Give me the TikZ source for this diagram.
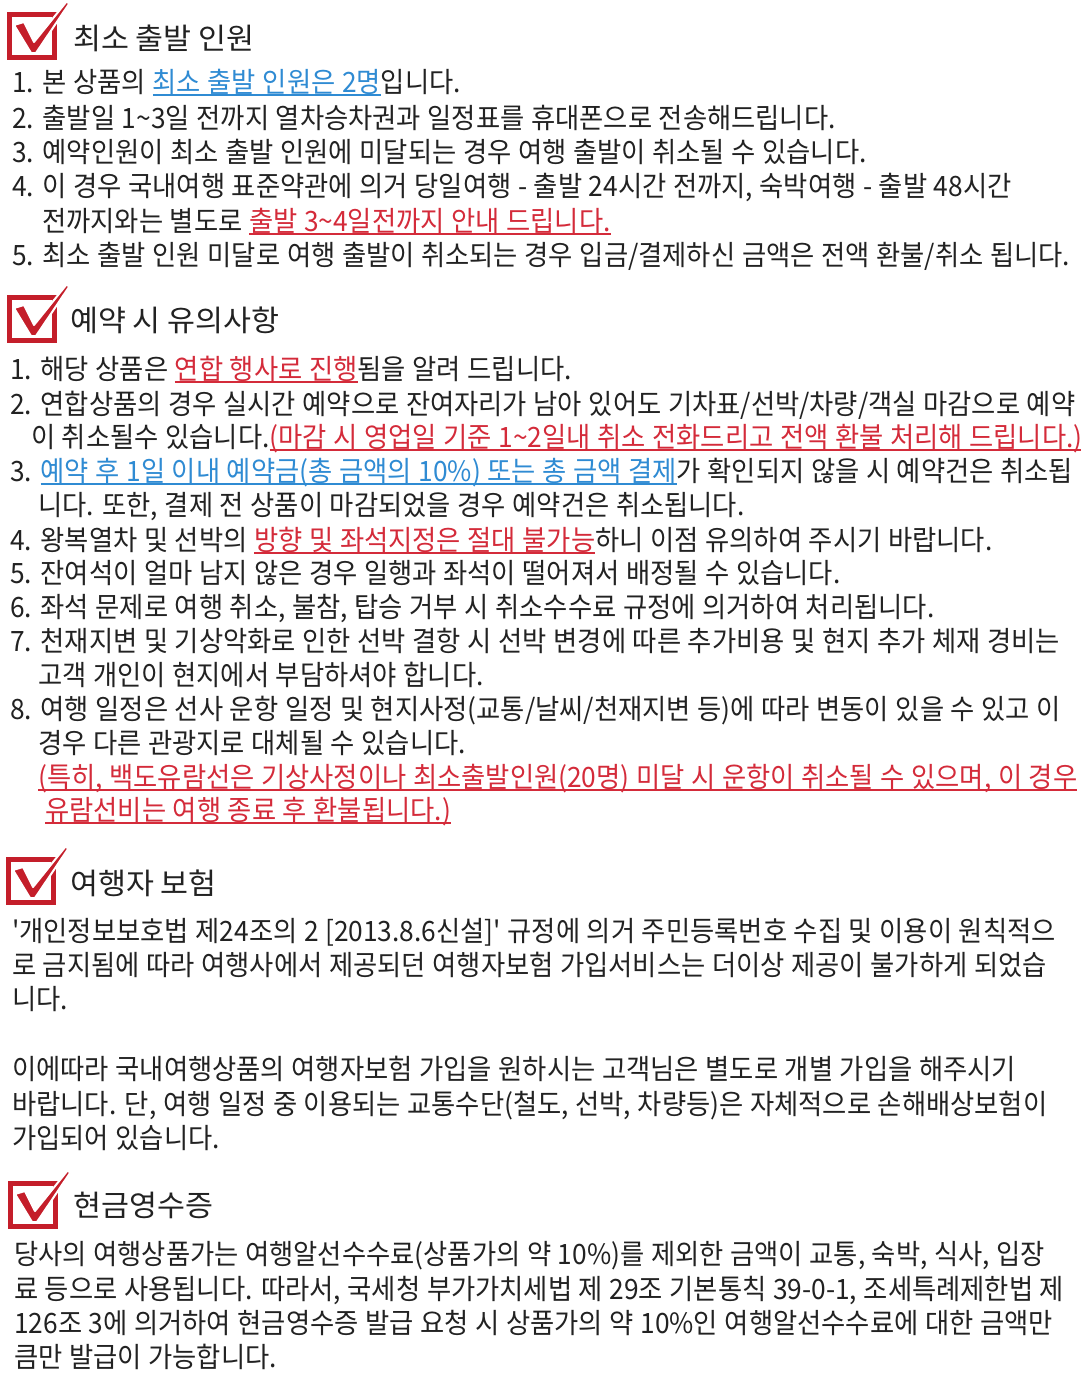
\documentclass[tikz,border=0pt]{standalone}
\usepackage{fontspec}
\setmainfont{Noto Sans CJK KR}[FakeStretch=0.94,Ligatures=TeXOff,WordSpace=1.12]
\newfontfamily\titlefont{Noto Sans CJK KR}[FakeStretch=1.03,Ligatures=TeXOff]
\definecolor{ublue}{HTML}{2F8BD3}
\definecolor{ured}{HTML}{D42B3A}
\definecolor{boxred}{HTML}{C41E2A}
\definecolor{txtblack}{HTML}{222222}
\newcommand\ulc[2]{{\color{#1}\setbox0\hbox{#2}\rlap{\rule[-3.5pt]{\wd0}{1.8pt}}\box0}}
\newcommand\bluel[1]{\ulc{ublue}{#1}}
\newcommand\redl[1]{\ulc{ured}{#1}}
\newcommand\tld{\textasciitilde}
\begin{document}
\begin{tikzpicture}[x=1pt,y=-1pt,
  txt/.style={anchor=base west,inner sep=0pt,text=txtblack,font=\fontsize{28}{34}\selectfont},
  head/.style={anchor=base west,inner sep=0pt,text=txtblack,font=\titlefont\fontsize{29.5}{35}\selectfont},
  checkicon/.pic={
    \draw[boxred,line width=5pt] (2.5,2.5) rectangle (47.5,45.5);
    \filldraw[fill=boxred,draw=white,line width=2pt,line join=round]
      (7,13) -- (17,10) -- (27,30) -- (60,-11) -- (62,-8) -- (29,41) -- (24,41) -- cycle;
  }]
\useasboundingbox[fill=white] (0,0) rectangle (1080,1400);

% ---------- Section 1
\pic at (7,12) {checkicon};
\node[head] (h1) at (73,49) {최소 출발 인원};
\node[txt] (s1a) at (12,92) {1. 본 상품의 \bluel{최소 출발 인원은 2명}입니다.};
\node[txt] (s1b) at (12,128) {2. 출발일 1\tld3일 전까지 열차승차권과 일정표를 휴대폰으로 전송해드립니다.};
\node[txt] (s1c) at (12,162) {3. 예약인원이 최소 출발 인원에 미달되는 경우 여행 출발이 취소될 수 있습니다.};
\node[txt] (s1d) at (12,196) {4. 이 경우 국내여행 표준약관에 의거 당일여행 - 출발 24시간 전까지, 숙박여행 - 출발 48시간};
\node[txt] (s1e) at (42,231) {전까지와는 별도로 \redl{출발 3\tld4일전까지 안내 드립니다.}};
\node[txt] (s1f) at (12,265) {5. 최소 출발 인원 미달로 여행 출발이 취소되는 경우 입금/결제하신 금액은 전액 환불/취소 됩니다.};

% ---------- Section 2
\pic at (7,295) {checkicon};
\node[head] (h2) at (70,331) {예약 시 유의사항};
\node[txt] (s2a) at (10,379) {1. 해당 상품은 \redl{연합 행사로 진행}됨을 알려 드립니다.};
\node[txt] (s2b) at (10,414) {2. 연합상품의 경우 실시간 예약으로 잔여자리가 남아 있어도 기차표/선박/차량/객실 마감으로 예약};
\node[txt] (s2c) at (31,447) {이 취소될수 있습니다.\redl{(마감 시 영업일 기준 1\tld2일내 취소 전화드리고 전액 환불 처리해 드립니다.)}};
\node[txt] (s2d) at (10,481) {3. \bluel{예약 후 1일 이내 예약금(총 금액의 10\%) 또는 총 금액 결제}가 확인되지 않을 시 예약건은 취소됩};
\node[txt] (s2e) at (38,515) {니다. 또한, 결제 전 상품이 마감되었을 경우 예약건은 취소됩니다.};
\node[txt] (s2f) at (10,550) {4. 왕복열차 및 선박의 \redl{방향 및 좌석지정은 절대 불가능}하니 이점 유의하여 주시기 바랍니다.};
\node[txt] (s2g) at (10,583) {5. 잔여석이 얼마 남지 않은 경우 일행과 좌석이 떨어져서 배정될 수 있습니다.};
\node[txt] (s2h) at (10,617) {6. 좌석 문제로 여행 취소, 불참, 탑승 거부 시 취소수수료 규정에 의거하여 처리됩니다.};
\node[txt] (s2i) at (10,651) {7. 천재지변 및 기상악화로 인한 선박 결항 시 선박 변경에 따른 추가비용 및 현지 추가 체재 경비는};
\node[txt] (s2j) at (38,685) {고객 개인이 현지에서 부담하셔야 합니다.};
\node[txt] (s2k) at (10,719) {8. 여행 일정은 선사 운항 일정 및 현지사정(교통/날씨/천재지변 등)에 따라 변동이 있을 수 있고 이};
\node[txt] (s2l) at (38,753) {경우 다른 관광지로 대체될 수 있습니다.};
\node[txt] (s2m) at (38,787) {\redl{(특히, 백도유람선은 기상사정이나 최소출발인원(20명) 미달 시 운항이 취소될 수 있으며, 이 경우}};
\node[txt] (s2n) at (45,820) {\redl{유람선비는 여행 종료 후 환불됩니다.)}};

% ---------- Section 3
\pic at (6,857) {checkicon};
\node[head] (h3) at (70,894) {여행자 보험};
\node[txt] (s3a) at (12,941) {'개인정보보호법 제24조의 2 [2013.8.6신설]' 규정에 의거 주민등록번호 수집 및 이용이 원칙적으};
\node[txt] (s3b) at (12,975) {로 금지됨에 따라 여행사에서 제공되던 여행자보험 가입서비스는 더이상 제공이 불가하게 되었습};
\node[txt] (s3c) at (12,1009) {니다.};
\node[txt] (s3d) at (12,1079) {이에따라 국내여행상품의 여행자보험 가입을 원하시는 고객님은 별도로 개별 가입을 해주시기};
\node[txt] (s3e) at (12,1114) {바랍니다. 단, 여행 일정 중 이용되는 교통수단(철도, 선박, 차량등)은 자체적으로 손해배상보험이};
\node[txt] (s3f) at (12,1148) {가입되어 있습니다.};

% ---------- Section 4
\pic at (8,1181) {checkicon};
\node[head] (h4) at (73,1216) {현금영수증};
\node[txt] (s4a) at (14,1264) {당사의 여행상품가는 여행알선수수료(상품가의 약 10\%)를 제외한 금액이 교통, 숙박, 식사, 입장};
\node[txt] (s4b) at (14,1299) {료 등으로 사용됩니다. 따라서, 국세청 부가가치세법 제 29조 기본통칙 39-0-1, 조세특례제한법 제};
\node[txt] (s4c) at (14,1333) {126조 3에 의거하여 현금영수증 발급 요청 시 상품가의 약 10\%인 여행알선수수료에 대한 금액만};
\node[txt] (s4d) at (14,1367) {큼만 발급이 가능합니다.};
\end{tikzpicture}
\end{document}
